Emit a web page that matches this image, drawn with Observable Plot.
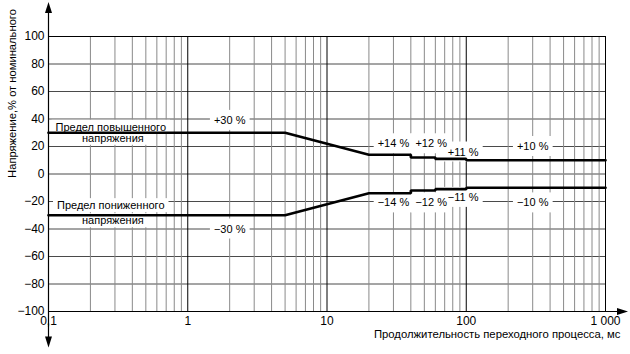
<!DOCTYPE html>
<html><head><meta charset="utf-8">
<script src="https://cdn.jsdelivr.net/npm/d3@7"></script>
<script src="https://cdn.jsdelivr.net/npm/@observablehq/plot@0.6"></script>
<style>
body{margin:0;background:#fff}
svg{display:block}
</style>
</head><body><div id="chart"></div>
<script>
// ---- data ----
const decades = [0.1, 1, 10, 100, 1000];
const decadeLabels = ["0,1", "1", "10", "100", "1 000"];
const minorMultipliers = [2, 3, 4, 5, 6, 7, 8, 9];
const yTicks = [-100, -80, -60, -40, -20, 0, 20, 40, 60, 80, 100];

const upperX = [0.1, 5, 20, 40, 40, 60, 60, 100, 100, 1000];
const upperY = [30, 30, 14, 14, 12, 12, 11, 11, 10, 10];
const lowerX = [0.1, 5, 20, 40, 40, 60, 60, 100, 100, 1000];
const lowerY = [-30, -30, -14, -14, -12, -12, -11, -11, -10, -10];

const pctLabels = ["+30 %", "+14 %", "+12 %", "+11 %", "+10 %", "−30 %", "−14 %", "−12 %", "−11 %", "−10 %"];
const pctX = [2, 30, 56, 95, 300, 2, 30, 56, 95, 300];
const pctY = [39, 22, 22, 16, 20, -40, -21, -21, -17, -21];

const limitLabels = ["Предел повышенного", "напряжения", "Предел пониженного", "напряжения"];
const limitX = [0.28, 0.29, 0.28, 0.29];
const limitY = [34, 26, -23, -34];

const yTitle = "Напряжение,% от номинального";
const xTitle = "Продолжительность переходного процесса, мс";

(function () {
// ---- tables ----
const minorX = decades.slice(0, 4).flatMap(d => minorMultipliers.map(m => d * m));
const upper = upperX.map((x, i) => ({x, y: upperY[i]}));
const lower = lowerX.map((x, i) => ({x, y: lowerY[i]}));
const pct = pctLabels.map((t, i) => ({t, x: pctX[i], y: pctY[i]}));
const limits = limitLabels.map((t, i) => ({t, x: limitX[i], y: limitY[i]}));
const innerY = yTicks.filter(v => v !== -100 && v !== 100);
const xLabelOf = new Map(decades.map((d, i) => [d, decadeLabels[i]]));
const FONT = "'Liberation Sans', Arial, sans-serif";

const plot = Plot.plot({
  width: 630, height: 354,
  marginLeft: 48, marginRight: 25, marginTop: 36, marginBottom: 43,
  style: {fontFamily: FONT, fontSize: "11px", color: "#000", background: "#fff"},
  x: {type: "log", domain: [0.1, 1000]},
  y: {domain: [-100, 100]},
  marks: [
    Plot.ruleY(innerY, {stroke: "#4a4a4a", strokeWidth: 1}),
    Plot.ruleX(minorX, {stroke: "#8a8a8a", strokeWidth: 1}),
    Plot.ruleX(decades, {stroke: "#000", strokeWidth: 1}),
    Plot.ruleY([-100, 100], {stroke: "#000", strokeWidth: 1.2}),
    Plot.text(pct, {x: "x", y: "y", text: "t", fill: "#000", fontSize: 11}),
    Plot.text(limits, {x: "x", y: "y", text: "t", fill: "#000", fontSize: 11}),
    Plot.line(upper, {x: "x", y: "y", stroke: "#000", strokeWidth: 2.7, strokeLinejoin: "miter"}),
    Plot.line(lower, {x: "x", y: "y", stroke: "#000", strokeWidth: 2.7, strokeLinejoin: "miter"}),
    Plot.axisX(decades, {tickSize: 0, tickPadding: 5, tickFormat: d => xLabelOf.get(d), fontSize: 12, label: null}),
    Plot.axisY(yTicks, {tickSize: 0, tickPadding: 4, fontSize: 12, label: null}),
    Plot.text([yTitle], {frameAnchor: "top-left", rotate: -90, textAnchor: "middle", lineAnchor: "middle", dx: -36, dy: 57, fontSize: 11.2, fill: "#000"}),
    Plot.text([xTitle], {frameAnchor: "bottom-right", textAnchor: "end", lineAnchor: "middle", dx: 15, dy: 23, fontSize: 11.3, fill: "#000"})
  ]
});
document.getElementById("chart").appendChild(plot);

// white boxes behind annotation labels (derived from the text bounding boxes)
const textGroups = d3.select(plot).selectAll('g[aria-label="text"]').nodes();
function boxes(group, px, py) {
  const texts = d3.select(group).selectAll("text").nodes();
  const first = texts[0];
  texts.forEach(t => {
    const b = t.getBBox();
    const tr = t.getAttribute("transform");
    const r = d3.select(group).insert("rect", () => first)
      .attr("x", b.x - px).attr("y", b.y - py)
      .attr("width", b.width + 2 * px).attr("height", b.height + 2 * py)
      .attr("fill", "#fff").attr("stroke", "none");
    if (tr) r.attr("transform", tr);
  });
}
boxes(textGroups[0], 4, 4);
boxes(textGroups[1], 4, 1);

// axis arrows
const sx = plot.scale("x"), sy = plot.scale("y");
const x0 = Math.round(sx.apply(0.1)) + 0.5;
const yb = Math.round(sy.apply(-100)) + 0.5;
const yt = sy.apply(100);
const xr = sx.apply(1000);
const g = d3.select(plot).append("g").attr("fill", "#000").attr("stroke", "#000");
g.append("line").attr("x1", x0).attr("x2", x0).attr("y1", yt - 26).attr("y2", yb + 28).attr("stroke-width", 1.2);
g.append("line").attr("x1", x0).attr("x2", xr + 14).attr("y1", yb).attr("y2", yb).attr("stroke-width", 1.2);
const tipT = yt - 34, tipB = yb + 36, tipR = xr + 23;
g.append("path").attr("stroke", "none").attr("d", `M${x0},${tipT}L${x0 - 3.5},${tipT + 11}L${x0 + 3.5},${tipT + 11}Z`);
g.append("path").attr("stroke", "none").attr("d", `M${x0},${tipB}L${x0 - 3.5},${tipB - 11}L${x0 + 3.5},${tipB - 11}Z`);
g.append("path").attr("stroke", "none").attr("d", `M${tipR},${yb}L${tipR - 11},${yb - 3.5}L${tipR - 11},${yb + 3.5}Z`);
})();
</script>
</body></html>
